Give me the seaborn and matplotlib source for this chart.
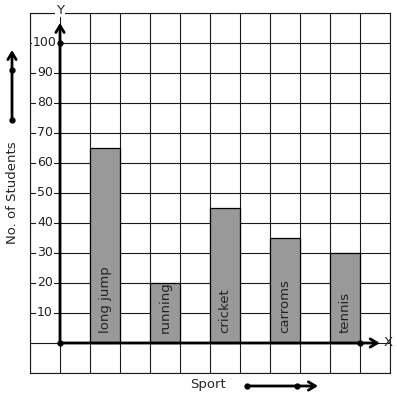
import matplotlib
matplotlib.use("Agg")
import matplotlib.pyplot as plt
import numpy as np
import seaborn as sns

sports = ["long jump", "running", "cricket", "carroms", "tennis"]
students = [65, 20, 45, 35, 30]
y_tick_values = [10, 20, 30, 40, 50, 60, 70, 80, 90, 100]

sns.set_style("white")
plt.rcParams["font.family"] = ["DejaVu Sans"]

fig = plt.figure(figsize=(3.97, 3.99), dpi=100)
ax = fig.add_axes([30 / 397, 26 / 399, 360 / 397, 360 / 399])

sns.barplot(x=sports, y=students, color="#999999", saturation=1,
            edgecolor="black", linewidth=0.9, width=0.5, ax=ax, zorder=2)

# grid of squares: half a category wide, 10 students tall
origin_x = -0.75
ax.set_xlim(-1.25, 4.75)
ax.set_ylim(-10, 110)
ax.set_xticks(np.arange(-1.25, 4.76, 0.5))
ax.set_yticks(np.arange(-10, 111, 10))
ax.set_xticklabels([])
ax.set_yticklabels([])
ax.tick_params(length=0)
ax.grid(True, color="#1a1a1a", lw=0.8)
ax.set_axisbelow(True)
for s in ax.spines.values():
    s.set_color("#1a1a1a")
    s.set_linewidth(0.8)

for v in y_tick_values:
    ax.text(-1.0, v, str(v), ha="center", va="center", fontsize=9,
            color="#222222", zorder=3,
            bbox=dict(facecolor="white", edgecolor="none", pad=0.6))

for i, name in enumerate(sports):
    ax.text(i, 3.3, name, rotation=90, ha="center", va="bottom",
            fontsize=9.5, color="#222222", zorder=3)

# axes arrows
arrow = dict(arrowstyle="->,head_length=0.5,head_width=0.3", lw=2, color="black",
             shrinkA=0, shrinkB=0)
ax.annotate("", xy=(origin_x, 106.7), xytext=(origin_x, 0), arrowprops=arrow,
            annotation_clip=False, zorder=4)
ax.annotate("", xy=(4.58, 0), xytext=(origin_x, 0), arrowprops=arrow,
            annotation_clip=False, zorder=4)
ax.plot([origin_x, origin_x, 4.25], [0, 100, 0], "o", color="black", ms=3.5,
        clip_on=False, zorder=5)
ax.text(origin_x, 111, "Y", ha="center", va="center", fontsize=9.5, zorder=5,
        bbox=dict(facecolor="white", edgecolor="none", pad=0.5))
ax.text(4.72, 0, "X", ha="center", va="center", fontsize=9.5, zorder=5)

ax.set_ylabel("No. of Students", fontsize=9.5)
ax.yaxis.label.set_va("center")
ax.yaxis.set_label_coords(-0.05, 0.5)
ax.set_xlabel("Sport", fontsize=9.5)
ax.xaxis.label.set_va("center")
ax.xaxis.set_label_coords(0.494, -0.033)

# direction arrows next to the axis titles
ax.annotate("", xy=(12 / 397, 1 - 50 / 399), xytext=(12 / 397, 1 - 120 / 399),
            xycoords="figure fraction", arrowprops=arrow, annotation_clip=False)
ax.annotate("", xy=(318 / 397, 1 - 386 / 399), xytext=(247 / 397, 1 - 386 / 399),
            xycoords="figure fraction", arrowprops=arrow, annotation_clip=False)
fig.add_artist(plt.Line2D([12 / 397, 12 / 397, 247 / 397, 297 / 397],
                          [1 - 120 / 399, 1 - 70 / 399, 1 - 386 / 399, 1 - 386 / 399],
                          ls="none", marker="o", ms=3.5, color="black"))

fig.savefig("out.png", dpi=100)
